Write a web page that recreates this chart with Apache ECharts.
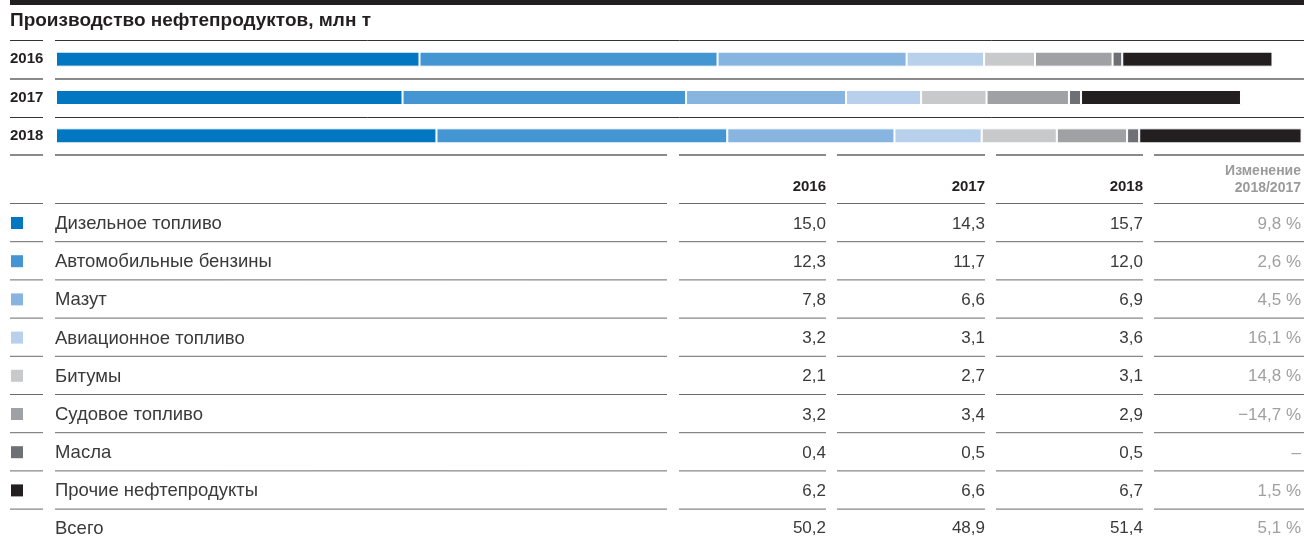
<!DOCTYPE html>
<html>
<head>
<meta charset="utf-8">
<script src="https://cdn.jsdelivr.net/npm/echarts/dist/echarts.min.js"></script>
<style>
  html, body { margin: 0; padding: 0; background: #fff; }
  #chart { width: 1304px; height: 538px; }
</style>
</head>
<body>
<div id="chart"></div>
<script>
  // данные
  const years = ['2016', '2017', '2018']
  const products = ['Дизельное топливо', 'Автомобильные бензины', 'Мазут', 'Авиационное топливо',
    'Битумы', 'Судовое топливо', 'Масла', 'Прочие нефтепродукты']
  const colors = ['#0077c0', '#4396d2', '#88b4e0', '#b8d0ec', '#c8c9cb', '#a0a1a5', '#6f7075', '#231f20']
  const v2016 = [15.0, 12.3, 7.8, 3.2, 2.1, 3.2, 0.4, 6.2]
  const v2017 = [14.3, 11.7, 6.6, 3.1, 2.7, 3.4, 0.5, 6.6]
  const v2018 = [15.7, 12.0, 6.9, 3.6, 3.1, 2.9, 0.5, 6.7]
  const change = ['9,8 %', '2,6 %', '4,5 %', '16,1 %', '14,8 %', '−14,7 %', '–', '1,5 %']
  const totals = [50.2, 48.9, 51.4]
  const totalChange = '5,1 %'

  const font = 'Liberation Sans'
  const fmt = v => v.toFixed(1).replace('.', ',')

  // колонки таблицы: [лево, право]
  const cols = [[10, 43], [55, 667], [679, 826], [837, 985], [996, 1143], [1154, 1304]]
  const right = [826, 985, 1143, 1301]
  const rowTop = 203
  const rowH = 38.2

  const graphic = []

  function hline (y, color, width, segs) {
    segs.forEach(s => {
      graphic.push({
        type: 'line',
        silent: true,
        shape: { x1: s[0], y1: y, x2: s[1], y2: y },
        style: { stroke: color, lineWidth: width },
      })
    })
  }

  function text (x, y, str, opts) {
    graphic.push({
      type: 'text',
      x: x,
      y: y,
      silent: true,
      style: Object.assign({
        text: str,
        fontFamily: font,
        fontSize: 17,
        fill: '#3a3a3a',
        align: 'left',
        verticalAlign: 'middle',
      }, opts || {}),
    })
  }

  // шапка
  graphic.push({
    type: 'rect',
    silent: true,
    shape: { x: 10, y: 0, width: 1294, height: 5 },
    style: { fill: '#231f20' },
  })
  text(10, 21, 'Производство нефтепродуктов, млн т', { fontWeight: 'bold', fontSize: 19, fill: '#231f20' })

  // разделители у полос
  const barSegs = [[10, 43], [55, 1304]]
  hline(40.5, '#333', 1, barSegs)
  hline(79, '#8a8a8a', 2, barSegs)
  hline(117.5, '#333', 1, barSegs)
  hline(155, '#8a8a8a', 2, cols)

  // заголовок таблицы
  years.forEach((y, i) => {
    text(right[i], 187, y, { align: 'right', fontWeight: 'bold', fontSize: 15, fill: '#231f20' })
  })
  text(right[3], 171, 'Изменение', { align: 'right', fontWeight: 'bold', fontSize: 14, fill: '#9a9a9a' })
  text(right[3], 188, '2018/2017', { align: 'right', fontWeight: 'bold', fontSize: 14, fill: '#9a9a9a' })

  // строки таблицы
  products.forEach((name, i) => {
    const top = rowTop + rowH * i
    const cy = top + 21
    hline(top + 0.5, '#6b6b6b', 1, cols)
    graphic.push({
      type: 'rect',
      silent: true,
      shape: { x: 11, y: cy - 7, width: 12, height: 12 },
      style: { fill: colors[i] },
    })
    text(55, cy, name, { fontSize: 18.5 })
    text(right[0], cy, fmt(v2016[i]), { align: 'right' })
    text(right[1], cy, fmt(v2017[i]), { align: 'right' })
    text(right[2], cy, fmt(v2018[i]), { align: 'right' })
    text(right[3], cy, change[i], { align: 'right', fill: '#a0a0a0' })
  })
  const totTop = rowTop + rowH * products.length
  hline(totTop + 0.5, '#6b6b6b', 1, cols)
  text(55, totTop + 20, 'Всего', { fontSize: 18.5 })
  totals.forEach((t, i) => {
    text(right[i], totTop + 20, fmt(t), { align: 'right' })
  })
  text(right[3], totTop + 20, totalChange, { align: 'right', fill: '#a0a0a0' })

  const series = products.map((name, i) => ({
    name: name,
    type: 'bar',
    stack: 'total',
    barWidth: 15,
    itemStyle: { color: colors[i], borderColor: '#fff', borderWidth: 1 },
    data: [v2016[i], v2017[i], v2018[i]],
  }))

  const chart = echarts.init(document.getElementById('chart'))
  const option = {
    animation: false,
    grid: { left: 56, right: 0, top: 40, height: 115, containLabel: false },
    xAxis: {
      type: 'value',
      min: 0,
      max: 51.5,
      show: false,
    },
    yAxis: {
      type: 'category',
      data: years,
      inverse: true,
      axisLine: { show: false },
      axisTick: { show: false },
      axisLabel: {
        margin: 46,
        align: 'left',
        fontFamily: font,
        fontWeight: 'bold',
        fontSize: 15,
        color: '#231f20',
      },
    },
    series: series,
    graphic: graphic,
  }
  chart.setOption(option)
</script>
</body>
</html>
